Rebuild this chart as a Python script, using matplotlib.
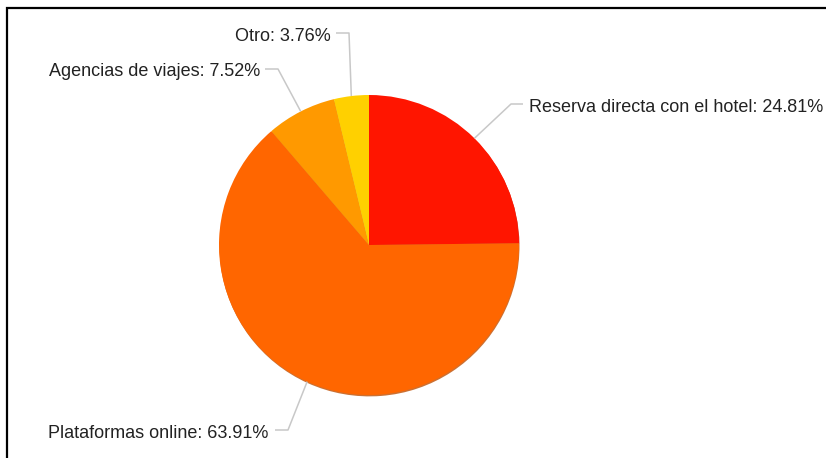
import numpy as np
import matplotlib
matplotlib.use("Agg")
import matplotlib.pyplot as plt
from matplotlib.patches import Rectangle

# Booking channel shares (%)
categories = ["Reserva directa con el hotel", "Plataformas online",
              "Agencias de viajes", "Otro"]
shares = [24.81, 63.91, 7.52, 3.76]
colors = ["#FF1500", "#FF6600", "#FF9900", "#FFD000"]

W, H = 826, 458
plt.rcParams["font.family"] = ["Liberation Sans", "DejaVu Sans"]

fig = plt.figure(figsize=(W / 100, H / 100), dpi=100)
ax = fig.add_axes([0, 0, 1, 1])


def py(y):
    """Convert a top-down pixel row into the axes' y coordinate."""
    return H - y


cx, cy, R = 369, py(245), 150

wedges, _ = ax.pie(shares, colors=colors, startangle=90, counterclock=False,
                   center=(cx, cy), radius=R, frame=True,
                   wedgeprops=dict(linewidth=0),
                   shadow=dict(ox=0.35, oy=-1.0, shade=0.25, alpha=0.8))
ax.set_xlim(0, W)
ax.set_ylim(0, H)
ax.set_aspect("equal")
ax.set_axis_off()

# Leader-line elbows and label anchors (pixel layout)
layout = [
    # elbow, line end, text x, text baseline, alignment
    ((511, 104), (523, 104), 529, 112, "left"),
    ((288, 430), (275, 430), 268, 438, "right"),
    ((278, 69), (265, 69), 260, 76, "right"),
    ((349, 33), (336, 33), 331, 41, "right"),
]

for w, name, val, (elbow, end, tx, ty, ha) in zip(wedges, categories, shares, layout):
    mid = np.deg2rad((w.theta1 + w.theta2) / 2)
    ex = cx + R * np.cos(mid)
    ey = cy + R * np.sin(mid)
    ax.plot([ex, elbow[0], end[0]], [ey, py(elbow[1]), py(end[1])],
            color="#c8c8c8", lw=1.1, solid_capstyle="butt", zorder=1)
    ax.text(tx, py(ty), f"{name}: {val:.2f}%", ha=ha, va="baseline",
            fontsize=13, color="#222222")

# Outer frame
ax.add_patch(Rectangle((7, py(470)), 840, 462, fill=False,
                       edgecolor="black", linewidth=1.6, zorder=5))

fig.savefig("out.png", dpi=100)
